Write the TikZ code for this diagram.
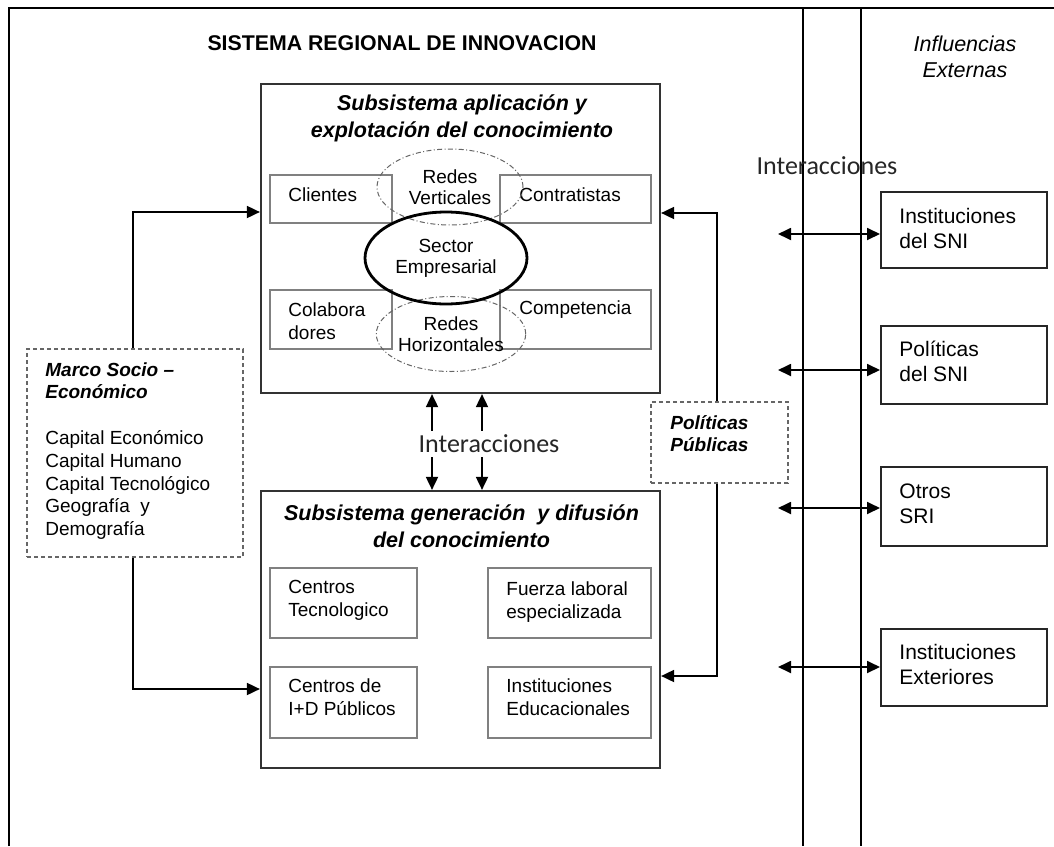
\documentclass[tikz,border=0pt]{standalone}
\usepackage{fontspec}
\setmainfont{Liberation Sans}
\newfontfamily\interfont{Carlito}
\usetikzlibrary{arrows.meta,shapes.geometric,fit,positioning}

\begin{document}
\begin{tikzpicture}[x=0.5pt, y=-0.5pt,
    subsys/.style={draw=black!80, line width=1.1pt, inner sep=0pt},
    itembox/.style={draw=black!50, line width=0.7pt, inner sep=0pt},
    extbox/.style={draw=black!85, line width=1pt, inner sep=0pt},
    dashbox/.style={draw=black!60, dash pattern=on 2pt off 1.5pt, line width=0.6pt, inner sep=0pt},
    netell/.style={ellipse, draw=black!60, dash pattern=on 2.5pt off 1.2pt on 0.5pt off 1.2pt,
        line width=0.5pt, inner sep=0pt, align=center, font=\fontsize{9.5}{10.5}\selectfont},
    conn/.style={line width=0.9pt, -{Triangle[length=6.5pt,width=6pt]}},
    dconn/.style={line width=0.9pt, {Triangle[length=6.5pt,width=6pt]}-{Triangle[length=6.5pt,width=6pt]}},
    itemtxt/.style={anchor=west, align=left, inner sep=0pt, font=\fontsize{9.5}{11.5}\selectfont},
    exttxt/.style={anchor=west, align=left, inner sep=0pt, font=\fontsize{10.5}{12.5}\selectfont},
    titletxt/.style={align=center, inner sep=0pt, font=\fontsize{10.75}{13.25}\selectfont\bfseries\itshape},
    intertxt/.style={inner sep=0pt, text=black!85, font=\interfont\fontsize{13}{15}\selectfont}
]
    % Page
    \fill[white] (0,0) rectangle (1054,846);
    \useasboundingbox (0,0) rectangle (1054,846);

    % Frame
    \draw[line width=1pt] (9,846) -- (9,8) -- (1054,8);
    \draw[line width=1pt] (803,8) -- (803,846);
    \draw[line width=1pt] (861,8) -- (861,846);

    % Headings
    \node[inner sep=0pt, font=\fontsize{10.65}{13}\selectfont\bfseries] (sri) at (402,43) {SISTEMA REGIONAL DE INNOVACION};
    \node[inner sep=0pt, align=center, font=\fontsize{10.75}{13}\selectfont\itshape] (ext) at (965,57) {Influencias\\Externas};

    % Upper subsystem
    \node[subsys, fit={(261,84) (660,393)}] (apl) {};
    \node[titletxt] (aplt) at (462,118.5) {Subsistema aplicación y\\explotación del conocimiento};

    \node[itembox, fit={(270,175) (392,223)}] (cli) {};
    \node[itemtxt] (clit) at (288,195) {Clientes};
    \node[itembox, fit={(500,175) (651,223)}] (con) {};
    \node[itemtxt] (cont) at (519,195) {Contratistas};
    \node[itembox, fit={(270,290) (392,349)}] (col) {};
    \node[itemtxt] (colt) at (288,321.5) {Colabora\\dores};
    \node[itembox, fit={(500,290) (651,349)}] (com) {};
    \node[itemtxt] (comt) at (519,310) {Competencia};

    \node[netell, minimum width=73pt, minimum height=38pt] (vert) at (450,187) {Redes\\Verticales};
    \node[netell, minimum width=74pt, minimum height=37.5pt] (hori) at (451,334) {Redes\\Horizontales};
    \node[ellipse, draw, line width=1.4pt, minimum width=81pt, minimum height=46pt, inner sep=0pt,
        align=center, font=\fontsize{9.5}{10.5}\selectfont] (sec) at (446,258) {Sector\\Empresarial};

    % Lower subsystem
    \node[subsys, fit={(261,491) (660,768)}] (gen) {};
    \node[titletxt] (gent) at (461.5,526) {Subsistema generación\ \ y difusión\\del conocimiento};

    \node[itembox, fit={(270,568) (417,638)}] (ctec) {};
    \node[itemtxt] (ctect) at (288,600) {Centros\\Tecnologico};
    \node[itembox, fit={(488,568) (651,638)}] (fza) {};
    \node[itemtxt] (fzat) at (506,602) {Fuerza laboral\\especializada};
    \node[itembox, fit={(270,667) (417,738)}] (cid) {};
    \node[itemtxt] (cidt) at (288,697.5) {Centros de\\I+D Públicos};
    \node[itembox, fit={(488,667) (651,738)}] (ied) {};
    \node[itemtxt] (iedt) at (506,697.5) {Instituciones\\Educacionales};

    % Interactions between subsystems
    \draw[dconn] (apl.south -| 432,0) -- (gen.north -| 432,0);
    \draw[dconn] (apl.south -| 482,0) -- (gen.north -| 482,0);
    \node[intertxt, fill=white, inner ysep=2pt] (inter) at (489,444) {Interacciones};

    % Socio-economic frame
    \node[dashbox, fit={(27,349) (243,557)}] (marco) {};
    \node[anchor=west, align=left, inner sep=0pt, font=\fontsize{9.5}{11.4}\selectfont] (marcot) at (45,451)
        {\textbf{\textit{Marco Socio –}}\\\textbf{\textit{Económico}}\\[11.4pt]
         Capital Económico\\Capital Humano\\Capital Tecnológico\\Geografía\ \ y\\Demografía};
    \draw[conn] (marco.north -| 133,0) |- (apl.west |- 0,212);
    \draw[conn] (marco.south -| 133,0) |- (gen.west |- 0,689);

    % Public policies
    \node[dashbox, fit={(651,402) (788,483)}] (pol) {};
    \node[anchor=west, align=left, inner sep=0pt, font=\fontsize{9.5}{11}\selectfont\bfseries\itshape] (polt) at (670,434) {Políticas\\Públicas};
    \draw[conn] (pol.north -| 717,0) |- (apl.east |- 0,213);
    \draw[conn] (pol.south -| 717,0) |- (gen.east |- 0,676);

    % External influences
    \node[extbox, fit={(881,192) (1047,268)}] (sni) {};
    \node[exttxt] (snit) at (899,228.5) {Instituciones\\del SNI};
    \node[extbox, fit={(881,326) (1047,404)}] (psni) {};
    \node[exttxt] (psnit) at (899,361) {Políticas\\del SNI};
    \node[extbox, fit={(881,467) (1047,546)}] (osri) {};
    \node[exttxt] (osrit) at (899,503.5) {Otros\\SRI};
    \node[extbox, fit={(881,629) (1047,706)}] (iext) {};
    \node[exttxt] (iextt) at (899,664.5) {Instituciones\\Exteriores};

    \node[intertxt] (inter2) at (827,166) {Interacciones};
    \foreach \b/\y in {sni/234, psni/370, osri/508, iext/667} {
        \coordinate (l\b) at (778,\y);
        \draw[dconn] (l\b) -- (\b.west |- l\b);
    }
\end{tikzpicture}
\end{document}
